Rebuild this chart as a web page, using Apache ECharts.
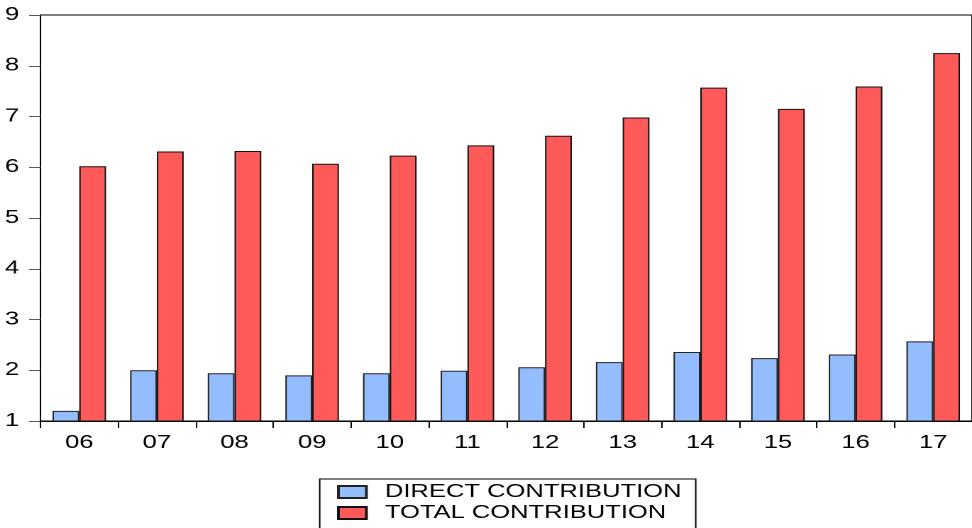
<!DOCTYPE html>
<html>
<head>
<meta charset="utf-8">
<script src="https://cdn.jsdelivr.net/npm/echarts@6/dist/echarts.min.js"></script>
<style>
html,body{margin:0;padding:0;background:#fff;overflow:hidden;width:972px;height:528px}
#c{width:685px;height:528px;transform:scaleX(1.4190);transform-origin:0 0}
</style>
</head>
<body>
<div id="c"></div>
<script>
var categories = ['06','07','08','09','10','11','12','13','14','15','16','17'];
var directContribution = [1.20, 2.00, 1.94, 1.90, 1.94, 1.99, 2.06, 2.16, 2.36, 2.24, 2.31, 2.57];
var totalContribution  = [6.02, 6.31, 6.32, 6.07, 6.23, 6.43, 6.62, 6.98, 7.57, 7.15, 7.59, 8.25];
var yTicks = [1, 9, 1]; // min, max, interval
var seriesNames = ['DIRECT CONTRIBUTION', 'TOTAL CONTRIBUTION'];

var chart = echarts.init(document.getElementById('c'), null, {renderer: 'canvas', devicePixelRatio: 2});
var font = 'Liberation Sans, Arial, sans-serif';
chart.setOption({
  animation: false,
  backgroundColor: '#fff',
  grid: {left: 28.5, right: -1, top: 15, bottom: 107, show: true, borderColor: '#000', borderWidth: 1, backgroundColor: 'transparent'},
  xAxis: {
    type: 'category', data: categories,
    axisLine: {lineStyle: {color: '#000', width: 1}},
    axisTick: {show: true, length: 7, lineStyle: {color: '#000'}},
    axisLabel: {color: '#000', fontSize: 18, fontFamily: font, margin: 13}
  },
  yAxis: {
    type: 'value', min: yTicks[0], max: yTicks[1], interval: yTicks[2],
    axisLine: {show: true, lineStyle: {color: '#000', width: 1}},
    axisTick: {show: true, length: 8, lineStyle: {color: '#555'}},
    splitLine: {show: false},
    axisLabel: {color: '#000', fontSize: 18, fontFamily: font, margin: 15}
  },
  graphic: [{
    type: 'rect', left: 224.8, top: 478.5, silent: true,
    shape: {width: 265, height: 60},
    style: {fill: 'transparent', stroke: '#000', lineWidth: 1}
  }],
  legend: {
    orient: 'vertical', left: 237.5, top: 483,
    icon: 'rect', itemWidth: 19.7, itemHeight: 12, itemGap: 3,
    padding: 0,
    textStyle: {color: '#000', fontSize: 18, fontFamily: font, lineHeight: 18, padding: [0, 0, 0, 8]},
    data: seriesNames
  },
  series: [
    {name: seriesNames[0], type: 'bar', data: directContribution, barGap: '0%', barCategoryGap: '31%',
     itemStyle: {color: '#94BDFF', borderColor: '#222', borderWidth: 1}},
    {name: seriesNames[1], type: 'bar', data: totalContribution, barGap: '0%', barCategoryGap: '31%',
     itemStyle: {color: '#FF5A5A', borderColor: '#111', borderWidth: 1}}
  ]
});
</script>
</body>
</html>
